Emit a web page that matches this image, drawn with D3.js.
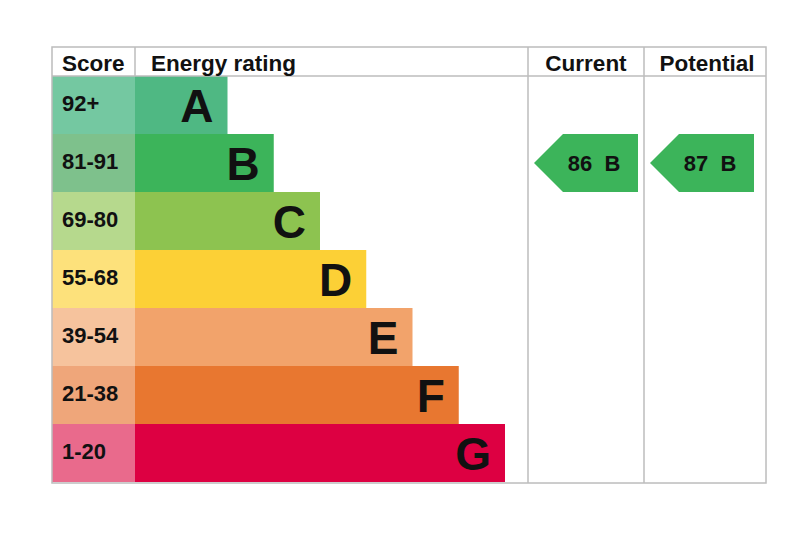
<!DOCTYPE html>
<html>
<head>
<meta charset="utf-8">
<script src="https://cdn.jsdelivr.net/npm/d3@7"></script>
<style>
  body { margin: 0; background: #fff; }
  text { font-family: "Liberation Sans", Arial, sans-serif; font-weight: bold; fill: #111; }
</style>
</head>
<body>
<div id="chart"></div>
<script>
// bands, score ranges and colours
var bands = ["A", "B", "C", "D", "E", "F", "G"];
var scores = ["92+", "81-91", "69-80", "55-68", "39-54", "21-38", "1-20"];
var barColors = ["#4fb883", "#3cb45a", "#8dc350", "#fcd036", "#f2a36b", "#e87730", "#dd0042"];
var scoreColors = ["#74c8a1", "#7ec18c", "#b6d98d", "#fde17b", "#f6c39d", "#efa67a", "#e96a8c"];
var headers = ["Score", "Energy rating", "Current", "Potential"];
var current = { value: 86, band: "B" };
var potential = { value: 87, band: "B" };

var width = 800, height = 533;
var tLeft = 52, tRight = 766, tTop = 47, headH = 29, tBottom = 483;
var scoreEnd = 135, curX = 528, potX = 644;

var svg = d3.select("#chart").append("svg")
    .attr("width", width)
    .attr("height", height);

var y = d3.scaleBand()
    .domain(bands)
    .range([tTop + headH, tBottom - 1])
    .padding(0);

// bar ends step out one unit per band, starting two units in
var x = d3.scaleLinear()
    .domain([0, 8])
    .range([scoreEnd, 505]);

var rows = svg.append("g").selectAll("g")
    .data(bands)
    .enter()
    .append("g");

rows.append("rect")
    .attr("x", tLeft)
    .attr("y", function (d) { return y(d); })
    .attr("width", scoreEnd - tLeft)
    .attr("height", y.bandwidth())
    .style("fill", function (d, i) { return scoreColors[i]; });

rows.append("rect")
    .attr("x", scoreEnd)
    .attr("y", function (d) { return y(d); })
    .attr("width", function (d, i) { return x(i + 2) - scoreEnd; })
    .attr("height", y.bandwidth())
    .style("fill", function (d, i) { return barColors[i]; });

rows.append("text")
    .attr("x", 62)
    .attr("y", function (d) { return y(d) + y.bandwidth() / 2 + 6; })
    .style("font-size", "22px")
    .text(function (d, i) { return scores[i]; });

rows.append("text")
    .attr("x", function (d, i) { return x(i + 2) - 14; })
    .attr("y", function (d) { return y(d) + y.bandwidth() / 2 + 17; })
    .attr("text-anchor", "end")
    .style("font-size", "46px")
    .text(function (d) { return d; });

// grid lines
var lineColor = "#bcbcbc";
var grid = svg.append("g").style("stroke", lineColor).style("stroke-width", 1.5).style("fill", "none");
grid.append("rect")
    .attr("x", tLeft).attr("y", tTop)
    .attr("width", tRight - tLeft).attr("height", tBottom - tTop);
grid.append("line")
    .attr("x1", tLeft).attr("x2", tRight)
    .attr("y1", tTop + headH).attr("y2", tTop + headH);
grid.append("line")
    .attr("x1", scoreEnd).attr("x2", scoreEnd)
    .attr("y1", tTop).attr("y2", tTop + headH);
[curX, potX].forEach(function (cx) {
    grid.append("line")
        .attr("x1", cx).attr("x2", cx)
        .attr("y1", tTop).attr("y2", tBottom);
});

// headers
var headPos = [
    { x: 62, anchor: "start" },
    { x: 151, anchor: "start" },
    { x: 586, anchor: "middle" },
    { x: 707, anchor: "middle" }
];
svg.append("g").selectAll("text")
    .data(headers)
    .enter()
    .append("text")
    .attr("x", function (d, i) { return headPos[i].x; })
    .attr("y", tTop + 24)
    .attr("text-anchor", function (d, i) { return headPos[i].anchor; })
    .style("font-size", "22.5px")
    .text(function (d) { return d; });

// rating arrows
function arrow(rating, x0, x1) {
    var yy = y(rating.band), h = y.bandwidth(), tip = h / 2;
    var i = bands.indexOf(rating.band);
    svg.append("path")
        .attr("d", "M" + x0 + "," + (yy + h / 2) +
            "L" + (x0 + tip) + "," + yy +
            "L" + x1 + "," + yy +
            "L" + x1 + "," + (yy + h) +
            "L" + (x0 + tip) + "," + (yy + h) + "Z")
        .style("fill", barColors[i]);
    svg.append("text")
        .attr("x", x0 + 60)
        .attr("y", yy + h / 2 + 8)
        .attr("text-anchor", "middle")
        .style("font-size", "22px")
        .style("white-space", "pre")
        .text(rating.value + "  " + rating.band);
}
arrow(current, 534, 638);
arrow(potential, 650, 754);
</script>
</body>
</html>
